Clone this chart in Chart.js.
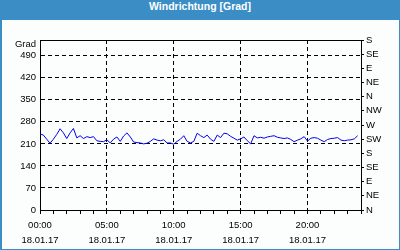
<!DOCTYPE html>
<html>
<head>
<meta charset="utf-8">
<script src="https://cdn.jsdelivr.net/npm/chart.js@4/dist/chart.umd.min.js"></script>
<style>
  body { margin: 0; background: #fff; }
  #frame {
    position: relative; width: 400px; height: 250px; box-sizing: border-box;
    border: 1px solid #3b8dc6; border-left-width: 2px; border-top: none; background: #fcfefd;
  }
  #title {
    height: 20px; line-height: 19px; background: #3b8dc6; color: #fff; text-align: center;
    font: bold 10.5px "Liberation Sans", Arial, sans-serif; margin-left: -2px; margin-right: -1px;
  }
  #chart { position: absolute; left: -2px; top: 0; }
</style>
</head>
<body>
<div id="frame">
  <div id="title">Windrichtung [Grad]</div>
  <canvas id="chart" width="400" height="250"></canvas>
</div>
<script>
// wind direction, every 15 minutes from 00:00 (hours on x)
const stepHours = 0.25;
const direction = [
  242, 238, 225, 212, 225, 240, 258, 245, 227, 245, 259, 229,
  236, 227, 233, 230, 233, 220, 218, 217, 223, 213, 225, 232,
  218, 235, 245, 232, 216, 214, 213, 210, 212, 218, 226, 222,
  220, 223, 213, 213, 209, 218, 225, 236, 218, 213, 218, 244,
  236, 230, 238, 225, 218, 238, 230, 244, 242, 234, 228, 222,
  226, 232, 220, 210, 236, 229, 231, 228, 232, 234, 236, 231,
  229, 227, 229, 224, 217, 222, 226, 233, 219, 228, 230, 228,
  222, 217, 224, 227, 228, 230, 222, 220, 222, 223, 226, 236
];
const timeLabels = ['00:00', '05:00', '10:00', '15:00', '20:00'];
const dateLabel = '18.01.17';
const leftTicks = [0, 70, 140, 210, 280, 350, 420, 490];
const compass = ['N', 'NE', 'E', 'SE', 'S', 'SW', 'W', 'NW', 'N', 'NE', 'E', 'SE', 'S'];

const points = direction.map((v, i) => ({ x: i * stepHours, y: v }));
const font = { family: '"Liberation Sans", Arial, sans-serif', size: 9.5 };

new Chart(document.getElementById('chart'), {
  type: 'line',
  data: {
    datasets: [{
      data: points,
      borderColor: '#0000ee',
      borderWidth: 1,
      pointRadius: 0,
      tension: 0,
      yAxisID: 'y'
    }]
  },
  options: {
    responsive: false,
    animation: false,
    plugins: { legend: { display: false }, tooltip: { enabled: false } },
    layout: { padding: { top: 40, left: 0, right: 0, bottom: 0 } },
    scales: {
      x: {
        type: 'linear', min: 0, max: 24,
        afterBuildTicks: s => { s.ticks = []; for (let h = 0; h <= 24; h++) s.ticks.push({ value: h }); },
        afterFit: s => { s.height = 40; },
        ticks: {
          autoSkip: false, maxRotation: 0, padding: 4, color: '#000',
          font: Object.assign({ lineHeight: 1.55 }, font),
          callback: v => (v % 5 === 0 && v < 24) ? [timeLabels[v / 5], dateLabel] : ''
        },
        grid: {
          color: c => (c.tick.value % 5 === 0 && c.tick.value > 0 && c.tick.value < 24) ? '#000' : 'transparent',
          tickColor: '#000', tickLength: 4, lineWidth: 1
        },
        border: { color: '#000', dash: [4, 3] }
      },
      y: {
        position: 'left', min: 0, max: 540,
        afterBuildTicks: s => { s.ticks = leftTicks.map(v => ({ value: v })).concat([{ value: 525 }]); },
        afterFit: s => { s.width = 40; },
        ticks: {
          autoSkip: false, padding: 4, color: '#000', font: font,
          callback: v => v === 525 ? 'Grad' : v
        },
        grid: {
          color: c => (c.tick.value > 0 && c.tick.value < 500) ? '#000' : 'transparent',
          drawTicks: false
        },
        border: { color: '#000', dash: [4, 3] }
      },
      y2: {
        position: 'right', min: 0, max: 540,
        afterBuildTicks: s => { s.ticks = compass.map((_, i) => ({ value: i * 45 })); },
        afterFit: s => { s.width = 39; },
        ticks: {
          autoSkip: false, padding: 2, color: '#000', font: font,
          callback: v => compass[v / 45]
        },
        grid: { drawOnChartArea: false, tickColor: '#000', tickLength: 3 },
        border: { color: '#000' }
      }
    }
  },
  plugins: [{
    id: 'topBorder',
    afterDraw: ch => {
      const a = ch.chartArea, g = ch.ctx;
      g.save(); g.strokeStyle = '#000'; g.lineWidth = 1;
      g.beginPath(); g.moveTo(a.left, a.top + 0.5); g.lineTo(a.right, a.top + 0.5); g.stroke();
      g.restore();
    }
  }]
});
</script>
</body>
</html>
